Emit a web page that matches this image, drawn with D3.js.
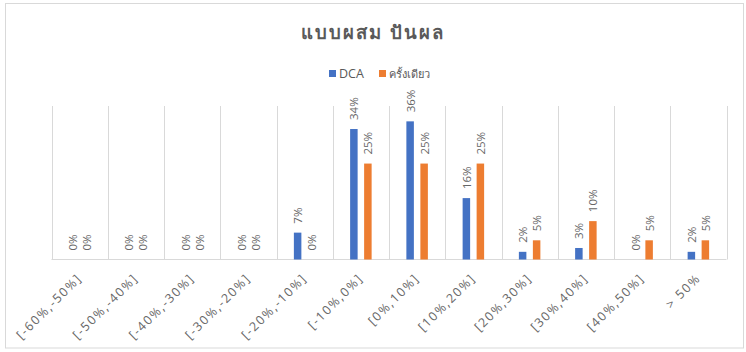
<!DOCTYPE html>
<html><head><meta charset="utf-8">
<script src="https://cdn.jsdelivr.net/npm/d3@7"></script>
<style>body{margin:0;background:#fff}svg{display:block}text{font-family:"Open Sans","Noto Sans",sans-serif}</style>
</head><body><div id="c"></div>
<script>
const categories = ["[-60%,-50%]","[-50%,-40%]","[-40%,-30%]","[-30%,-20%]","[-20%,-10%]","[-10%,0%]","[0%,10%]","[10%,20%]","[20%,30%]","[30%,40%]","[40%,50%]","> 50%"];
const seriesNames = ["DCA","ครั้งเดียว"];
const dca = [0,0,0,0,0.07,0.34,0.36,0.16,0.02,0.03,0,0.02];
const once = [0,0,0,0,0,0.25,0.25,0.25,0.05,0.10,0.05,0.05];
const colors = ["#4472C4","#ED7D31"];
const title = "แบบผสม ปันผล";

const W=746,H=352;
const svg=d3.select("#c").append("svg").attr("width",W).attr("height",H);
svg.append("rect").attr("x",5.5).attr("y",3.5).attr("width",738).attr("height",344.5).attr("fill","#fff").attr("stroke","#d9d9d9");

const x=d3.scaleBand().domain(categories).range([51.5,726.5]);
const y=d3.scaleLinear().domain([0,0.4]).range([259.5,106]);

// vertical gridlines at category boundaries
const bounds=categories.map(c=>x(c)).concat([x.range()[1]]);
svg.append("g").selectAll("line").data(bounds).join("line")
  .attr("x1",d=>Math.round(d)+0.5).attr("x2",d=>Math.round(d)+0.5)
  .attr("y1",y(0.4)).attr("y2",y(0)).attr("stroke","#d9d9d9");
svg.append("line").attr("x1",x.range()[0]).attr("x2",x.range()[1]).attr("y1",y(0)).attr("y2",y(0)).attr("stroke","#d9d9d9");

const data=[dca,once];
const bw=7.5;
data.forEach((vals,si)=>{
  const g=svg.append("g");
  g.selectAll("rect").data(vals).join("rect")
    .attr("x",(d,i)=>x(categories[i])+x.bandwidth()/2+(si===0?-7:7)-bw/2)
    .attr("width",bw)
    .attr("y",d=>y(d)).attr("height",d=>y(0)-y(d))
    .attr("fill",colors[si]);
  g.selectAll("text").data(vals).join("text")
    .attr("transform",(d,i)=>{const cx=x(categories[i])+x.bandwidth()/2+(si===0?-7:7);return `translate(${cx+4.5},${y(d)-9}) rotate(-90)`;})
    .attr("font-size",11.5).attr("fill","#666666")
    .text(d=>d3.format(".0%")(d));
});

// x axis labels
svg.append("g").selectAll("text").data(categories).join("text")
  .attr("transform",d=>`translate(${x(d)+x.bandwidth()/2+3},${279}) rotate(-45)`)
  .attr("text-anchor","end").attr("font-size",12.5).attr("fill","#666666")
  .attr("letter-spacing","1.6px")
  .text(d=>d);

// title
svg.append("text").attr("x",373).attr("y",39).attr("text-anchor","middle")
  .attr("font-size",18.5).attr("font-weight","bold").attr("fill","#595959").attr("letter-spacing","2px").text(title);

// legend
const lg=svg.append("g");
const lx=[329,379];
seriesNames.forEach((n,i)=>{
  lg.append("rect").attr("x",lx[i]).attr("y",70).attr("width",7).attr("height",7).attr("fill",colors[i]);
  lg.append("text").attr("x",lx[i]+10).attr("y",77.5).attr("font-size",i===0?12.5:11).attr("fill","#595959").text(n);
});
</script></body></html>
